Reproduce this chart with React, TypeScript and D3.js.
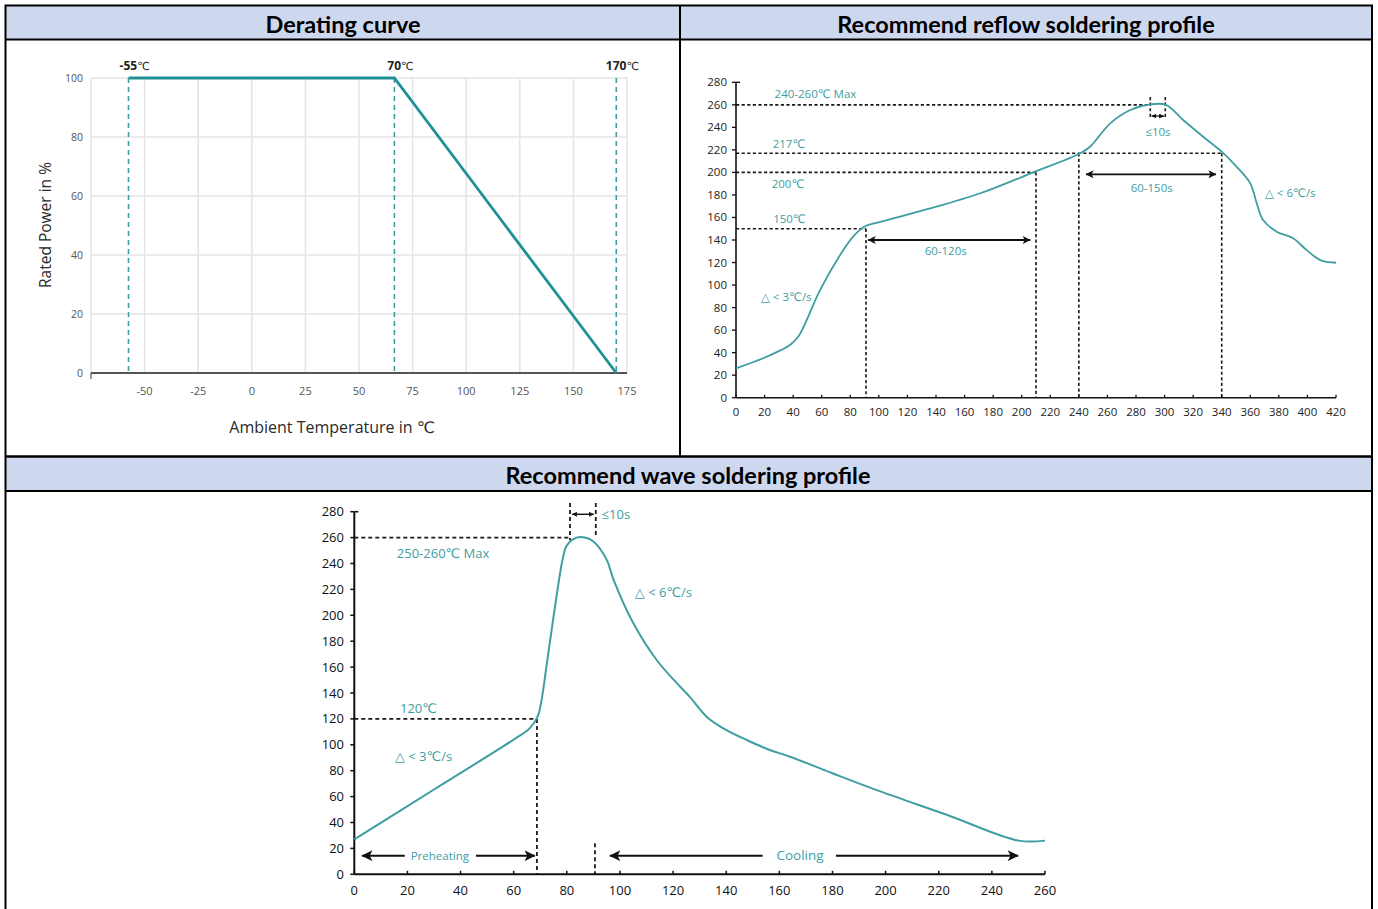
import React from 'react';
import * as d3 from 'd3';

// ---------- Derating curve data ----------
const deratingTemp = [-57.5, 66.5, 170];
const deratingPower = [100, 100, 0];
const deratingXTicks = [-50, -25, 0, 25, 50, 75, 100, 125, 150, 175];
const deratingGridX = [-75, -50, -25, 0, 25, 50, 75, 100, 125, 150, 175];
const deratingYTicks = [0, 20, 40, 60, 80, 100];
const deratingMarkTemps = [-57.5, 66.5, 170];
const deratingMarkLabels = ['-55', '70', '170'];

// ---------- Reflow profile data ----------
const reflowTime = [0, 19, 31, 38, 44, 59, 73, 82, 90, 101, 136, 171, 206, 241, 248, 262, 276, 290, 301, 313, 327, 340, 350.5, 360, 364.5, 369, 378.5, 390, 399.5, 409, 420];
const reflowTemp = [26, 35, 42, 47, 55, 96, 127, 143, 152, 156, 168, 181.5, 199, 217, 223, 243.6, 255.4, 260.4, 260, 246.5, 231.7, 218.4, 205, 190.3, 172.6, 157.8, 147.4, 141.5, 131, 122.2, 119.8];
const reflowXTicks = [0, 20, 40, 60, 80, 100, 120, 140, 160, 180, 200, 220, 240, 260, 280, 300, 320, 340, 360, 380, 400, 420];
const reflowYTicks = [0, 20, 40, 60, 80, 100, 120, 140, 160, 180, 200, 220, 240, 260, 280];
const reflowLevels = [260, 217, 200, 150];
const reflowLevelEnds = [290, 340, 210, 91];
const reflowMarkTimes = [91, 210, 240, 340];
const reflowMarkTops = [150, 200, 217, 217];

// ---------- Wave profile data ----------
const waveTime = [0, 30, 60, 66, 69, 70.5, 72.5, 75, 78.6, 80, 83.7, 86.8, 90, 95, 97.5, 105, 113.8, 122.6, 126.3, 132.6, 138.9, 147.7, 156.4, 164, 180, 198, 223, 250, 260];
const waveTemp = [27, 65.5, 104, 112.7, 121.7, 134.6, 163, 199, 245, 254, 260, 260, 257, 243, 228, 194, 165.5, 145, 137, 121.7, 112.7, 103.7, 96, 90.8, 78, 64, 46, 26, 26];
const waveXTicks = [0, 20, 40, 60, 80, 100, 120, 140, 160, 180, 200, 220, 240, 260];
const waveYTicks = [0, 20, 40, 60, 80, 100, 120, 140, 160, 180, 200, 220, 240, 260, 280];

const TEAL = '#3f9ea2';
const TEAL_DARK = '#1f9195';
const FONT = "'Open Sans', 'DejaVu Sans', sans-serif";
const HFONT = "Lato, 'Open Sans', sans-serif";
const HEAD_FILL = '#cdd8ef';

export default function App() {
  // scales
  const dx = d3.scaleLinear().domain([-75, 175]).range([91, 627]);
  const dy = d3.scaleLinear().domain([0, 100]).range([373, 78]);
  const rx = d3.scaleLinear().domain([0, 420]).range([736, 1336]);
  const ry = d3.scaleLinear().domain([0, 280]).range([397.7, 82.3]);
  const wx = d3.scaleLinear().domain([0, 260]).range([354.3, 1045]);
  const wy = d3.scaleLinear().domain([0, 280]).range([874.3, 511.7]);

  const derPts = deratingTemp.map((t, i) => [t, deratingPower[i]] as [number, number]);
  const derPath = d3.line<[number, number]>().x(d => dx(d[0])).y(d => dy(d[1]))(derPts) || '';

  const refPts = reflowTime.map((t, i) => [t, reflowTemp[i]] as [number, number]);
  const refPath = d3.line<[number, number]>().x(d => rx(d[0])).y(d => ry(d[1])).curve(d3.curveCatmullRom.alpha(0.5))(refPts) || '';

  const wavPts = waveTime.map((t, i) => [t, waveTemp[i]] as [number, number]);
  const wavPath = d3.line<[number, number]>().x(d => wx(d[0])).y(d => wy(d[1])).curve(d3.curveCatmullRom.alpha(0.5))(wavPts) || '';

  const dashR = { stroke: '#1a1a1a', strokeWidth: 1.6, strokeDasharray: '3.2 2.4', fill: 'none' };
  const dashW = { stroke: '#1a1a1a', strokeWidth: 1.8, strokeDasharray: '4 3', fill: 'none' };

  return (
    <svg width={1378} height={909} style={{ position: 'absolute', left: 0, top: 0, display: 'block', background: '#fff' }}>
      <defs>
        <marker id="arr" viewBox="0 0 10 10" refX="9.5" refY="5" markerWidth="10" markerHeight="8" markerUnits="userSpaceOnUse" orient="auto-start-reverse">
          <path d="M0,0 L10,5 L0,10 L2.5,5 z" fill="#111" />
        </marker>
        <marker id="arrBig" viewBox="0 0 10 10" refX="9.5" refY="5" markerWidth="13" markerHeight="11" markerUnits="userSpaceOnUse" orient="auto-start-reverse">
          <path d="M0,0 L10,5 L0,10 L2.5,5 z" fill="#111" />
        </marker>
        <marker id="arrSmall" viewBox="0 0 10 10" refX="9.5" refY="5" markerWidth="5" markerHeight="5" markerUnits="userSpaceOnUse" orient="auto-start-reverse">
          <path d="M0,0 L10,5 L0,10 z" fill="#111" />
        </marker>
      </defs>

      {/* ---------- table frame ---------- */}
      <rect x={6} y={6} width={1366} height={33} fill={HEAD_FILL} />
      <rect x={6} y={457} width={1366} height={33} fill={HEAD_FILL} />
      <rect x={5.5} y={5.5} width={1366.5} height={920} fill="none" stroke="#000" strokeWidth={2} />
      <line x1={5} x2={1372} y1={39.5} y2={39.5} stroke="#000" strokeWidth={2} />
      <line x1={680} x2={680} y1={5} y2={457} stroke="#000" strokeWidth={2} />
      <line x1={5} x2={1372} y1={456.5} y2={456.5} stroke="#000" strokeWidth={2.5} />
      <line x1={5} x2={1372} y1={491} y2={491} stroke="#000" strokeWidth={2} />
      <text x={343} y={32.5} textAnchor="middle" fontFamily={HFONT} fontWeight={700} fontSize={23.5} fill="#000">Derating curve</text>
      <text x={1026} y={32.5} textAnchor="middle" fontFamily={HFONT} fontWeight={700} fontSize={23.5} fill="#000">Recommend reflow soldering profile</text>
      <text x={688} y={483.5} textAnchor="middle" fontFamily={HFONT} fontWeight={700} fontSize={23.5} fill="#000">Recommend wave soldering profile</text>

      {/* ---------- Derating chart ---------- */}
      <g>
        {deratingYTicks.filter(v => v > 0).map(v => (
          <line key={'gy' + v} x1={dx(-75)} x2={dx(175)} y1={dy(v)} y2={dy(v)} stroke="#e4e4e4" strokeWidth={1.5} />
        ))}
        {deratingGridX.map(v => (
          <line key={'gx' + v} x1={dx(v)} x2={dx(v)} y1={dy(100)} y2={dy(0)} stroke="#e4e4e4" strokeWidth={1.5} />
        ))}
        <line x1={dx(-75)} x2={dx(175)} y1={dy(0)} y2={dy(0)} stroke="#555" strokeWidth={2} />
        <line x1={dx(-75)} x2={dx(-75)} y1={dy(0)} y2={dy(0) + 6} stroke="#555" strokeWidth={1.2} />
        {deratingYTicks.map(v => (
          <text key={'yl' + v} x={83} y={dy(v)} dy="0.35em" textAnchor="end" fontFamily={FONT} fontSize={10.5} fill="#555">{v}</text>
        ))}
        {deratingXTicks.map(v => (
          <text key={'xl' + v} x={dx(v)} y={391} dy="0.35em" textAnchor="middle" fontFamily={FONT} fontSize={11} fill="#555">{v}</text>
        ))}
        {deratingMarkTemps.map((t, i) => (
          <g key={'dm' + i}>
            <line x1={dx(t)} x2={dx(t)} y1={dy(100)} y2={dy(0)} stroke={TEAL} strokeWidth={1.6} strokeDasharray="5 4" />
            <text x={dx(t) + 6} y={70} textAnchor="middle" fontFamily={FONT} fontSize={12} fill="#222">
              <tspan fontWeight={700}>{deratingMarkLabels[i]}</tspan><tspan fontSize={11}>℃</tspan>
            </text>
          </g>
        ))}
        <path d={derPath} fill="none" stroke={TEAL_DARK} strokeWidth={2.8} />
        <text transform="translate(51,225) rotate(-90)" textAnchor="middle" fontFamily={FONT} fontSize={15.5} fill="#2a2a2a">Rated Power in %</text>
        <text x={332} y={433} textAnchor="middle" fontFamily={FONT} fontSize={16} fill="#2a2a2a">Ambient Temperature in ℃</text>
      </g>

      {/* ---------- Reflow chart ---------- */}
      <g>
        {reflowLevels.map((v, i) => (
          <line key={'rl' + v} x1={rx(0)} x2={rx(reflowLevelEnds[i])} y1={ry(v)} y2={ry(v)} {...dashR} />
        ))}
        {reflowMarkTimes.map((t, i) => (
          <line key={'rm' + t} x1={rx(t)} x2={rx(t)} y1={ry(reflowMarkTops[i])} y2={ry(0)} {...dashR} />
        ))}
        <line x1={rx(290)} x2={rx(290)} y1={ry(267)} y2={ry(248)} {...dashR} />
        <line x1={rx(300.5)} x2={rx(300.5)} y1={ry(267)} y2={ry(248)} {...dashR} />
        <line x1={rx(291)} x2={rx(299.5)} y1={ry(250)} y2={ry(250)} stroke="#111" strokeWidth={1.2} markerStart="url(#arrSmall)" markerEnd="url(#arrSmall)" />
        <line x1={rx(92.5)} x2={rx(206)} y1={ry(140)} y2={ry(140)} stroke="#111" strokeWidth={1.8} markerStart="url(#arr)" markerEnd="url(#arr)" />
        <line x1={rx(245)} x2={rx(336)} y1={ry(198.3)} y2={ry(198.3)} stroke="#111" strokeWidth={1.8} markerStart="url(#arr)" markerEnd="url(#arr)" />

        {/* axes */}
        <line x1={rx(0)} x2={rx(0)} y1={ry(280)} y2={ry(0)} stroke="#111" strokeWidth={1.6} />
        <line x1={rx(0)} x2={rx(0) + 4} y1={ry(280)} y2={ry(280)} stroke="#111" strokeWidth={1.4} />
        <line x1={rx(0)} x2={rx(420)} y1={ry(0)} y2={ry(0)} stroke="#111" strokeWidth={1.6} />
        {reflowYTicks.map(v => (
          <g key={'ryt' + v}>
            <line x1={rx(0) - 4} x2={rx(0)} y1={ry(v)} y2={ry(v)} stroke="#111" strokeWidth={1.3} />
            <text x={727} y={ry(v)} dy="0.35em" textAnchor="end" fontFamily={FONT} fontSize={11.5} fill="#222">{v}</text>
          </g>
        ))}
        {reflowXTicks.map(v => (
          <g key={'rxt' + v}>
            <line x1={rx(v)} x2={rx(v)} y1={ry(0)} y2={ry(0) - 3} stroke="#111" strokeWidth={1.3} />
            <text x={rx(v)} y={412.3} dy="0.35em" textAnchor="middle" fontFamily={FONT} fontSize={11.5} fill="#222">{v}</text>
          </g>
        ))}

        <path d={refPath} fill="none" stroke={TEAL} strokeWidth={1.8} />

        {/* labels */}
        <text x={rx(27)} y={ry(270)} dy="0.35em" fontFamily={FONT} fontSize={11.5} fill={TEAL}>240-260℃ Max</text>
        <text x={rx(25.7)} y={ry(225)} dy="0.35em" fontFamily={FONT} fontSize={11.5} fill={TEAL}>217℃</text>
        <text x={rx(25)} y={ry(190)} dy="0.35em" fontFamily={FONT} fontSize={11.5} fill={TEAL}>200℃</text>
        <text x={rx(26)} y={ry(159)} dy="0.35em" fontFamily={FONT} fontSize={11.5} fill={TEAL}>150℃</text>
        <text x={rx(17.5)} y={ry(89.7)} dy="0.35em" fontFamily={FONT} fontSize={11.5} fill={TEAL}>△ &lt; 3℃/s</text>
        <text x={rx(370.3)} y={ry(182)} dy="0.35em" fontFamily={FONT} fontSize={11.5} fill={TEAL}>△ &lt; 6℃/s</text>
        <text x={rx(295.4)} y={ry(236)} dy="0.35em" textAnchor="middle" fontFamily={FONT} fontSize={11.5} fill={TEAL}>≤10s</text>
        <text x={rx(146.8)} y={ry(130.5)} dy="0.35em" textAnchor="middle" fontFamily={FONT} fontSize={11.5} fill={TEAL}>60-120s</text>
        <text x={rx(291)} y={ry(186)} dy="0.35em" textAnchor="middle" fontFamily={FONT} fontSize={11.5} fill={TEAL}>60-150s</text>
      </g>

      {/* ---------- Wave chart ---------- */}
      <g>
        <line x1={wx(0)} x2={wx(81.2)} y1={wy(260)} y2={wy(260)} {...dashW} />
        <line x1={wx(81.2)} x2={wx(81.2)} y1={wy(286.7)} y2={wy(258)} {...dashW} />
        <line x1={wx(90.9)} x2={wx(90.9)} y1={wy(286.7)} y2={wy(260)} {...dashW} />
        <line x1={wx(82)} x2={wx(90.1)} y1={wy(278)} y2={wy(278)} stroke="#111" strokeWidth={1.4} markerStart="url(#arrSmall)" markerEnd="url(#arrSmall)" />
        <line x1={wx(0)} x2={wx(68.75)} y1={wy(120)} y2={wy(120)} {...dashW} />
        <line x1={wx(68.75)} x2={wx(68.75)} y1={wy(120)} y2={wy(0)} {...dashW} />
        <line x1={wx(90.6)} x2={wx(90.6)} y1={wy(24)} y2={wy(0)} {...dashW} />

        {/* preheating / cooling arrows */}
        <line x1={wx(2.9)} x2={wx(19)} y1={wy(14.4)} y2={wy(14.4)} stroke="#111" strokeWidth={2} markerStart="url(#arrBig)" />
        <line x1={wx(45.8)} x2={wx(68)} y1={wy(14.4)} y2={wy(14.4)} stroke="#111" strokeWidth={2} markerEnd="url(#arrBig)" />
        <line x1={wx(96.2)} x2={wx(153.7)} y1={wy(14.4)} y2={wy(14.4)} stroke="#111" strokeWidth={2} markerStart="url(#arrBig)" />
        <line x1={wx(181.3)} x2={wx(249.9)} y1={wy(14.4)} y2={wy(14.4)} stroke="#111" strokeWidth={2} markerEnd="url(#arrBig)" />
        <text x={wx(32.2)} y={wy(14.4)} dy="0.35em" textAnchor="middle" fontFamily={FONT} fontSize={11.5} fill={TEAL}>Preheating</text>
        <text x={wx(167.8)} y={wy(14.4)} dy="0.35em" textAnchor="middle" fontFamily={FONT} fontSize={13.5} fill={TEAL}>Cooling</text>

        {/* axes */}
        <line x1={wx(0)} x2={wx(0)} y1={wy(280)} y2={wy(0)} stroke="#111" strokeWidth={2} />
        <line x1={wx(0)} x2={wx(0) + 4} y1={wy(280)} y2={wy(280)} stroke="#111" strokeWidth={1.6} />
        <line x1={wx(0)} x2={wx(260)} y1={wy(0)} y2={wy(0)} stroke="#111" strokeWidth={2} />
        {waveYTicks.map(v => (
          <g key={'wyt' + v}>
            <line x1={wx(0) - 4} x2={wx(0)} y1={wy(v)} y2={wy(v)} stroke="#111" strokeWidth={1.5} />
            <text x={344} y={wy(v)} dy="0.35em" textAnchor="end" fontFamily={FONT} fontSize={13} fill="#111">{v}</text>
          </g>
        ))}
        {waveXTicks.map(v => (
          <g key={'wxt' + v}>
            <line x1={wx(v)} x2={wx(v)} y1={wy(0)} y2={wy(0) - 3.5} stroke="#111" strokeWidth={1.5} />
            <text x={wx(v)} y={890} dy="0.35em" textAnchor="middle" fontFamily={FONT} fontSize={13} fill="#111">{v}</text>
          </g>
        ))}

        <path d={wavPath} fill="none" stroke={TEAL} strokeWidth={2} />

        <text x={wx(16)} y={wy(248)} dy="0.35em" fontFamily={FONT} fontSize={13} fill={TEAL}>250-260℃ Max</text>
        <text x={wx(105.6)} y={wy(217.8)} dy="0.35em" fontFamily={FONT} fontSize={13} fill={TEAL}>△ &lt; 6℃/s</text>
        <text x={wx(17.2)} y={wy(128.2)} dy="0.35em" fontFamily={FONT} fontSize={13} fill={TEAL}>120℃</text>
        <text x={wx(15.3)} y={wy(90.8)} dy="0.35em" fontFamily={FONT} fontSize={13} fill={TEAL}>△ &lt; 3℃/s</text>
        <text x={wx(93.1)} y={wy(277.5)} dy="0.35em" fontFamily={FONT} fontSize={13} fill={TEAL}>≤10s</text>
      </g>
    </svg>
  );
}
